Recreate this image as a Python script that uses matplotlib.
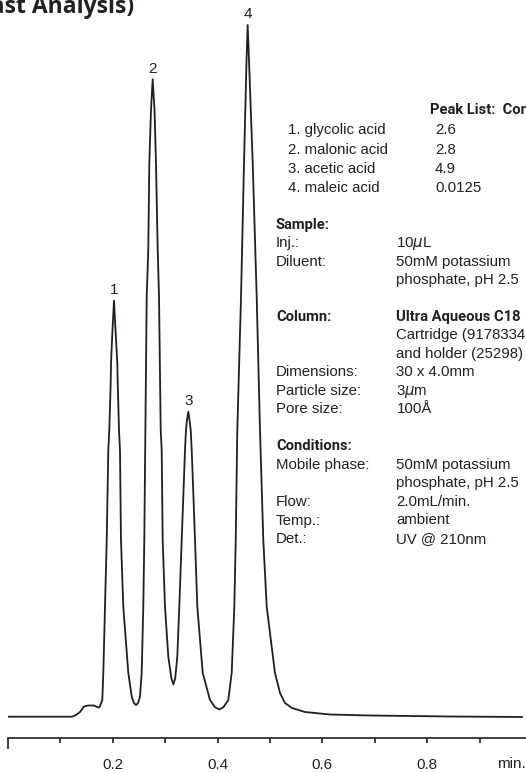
import numpy as np
import matplotlib
matplotlib.use('Agg')
import matplotlib.pyplot as plt

# traced chromatogram (time in min, detector signal in arbitrary units)
trace_t = [0.0, 0.1221, 0.1298, 0.1374, 0.1450, 0.1527, 0.1641, 0.1698, 0.1737, 0.1756,
           0.1800, 0.1819, 0.1851, 0.1884, 0.1914, 0.1933, 0.1960, 0.1966, 0.1994, 0.2023,
           0.2052, 0.2086, 0.2094, 0.2118, 0.2137, 0.2156, 0.2200, 0.2296, 0.2361, 0.2405,
           0.2443, 0.2480, 0.2519, 0.2551, 0.2582, 0.2601, 0.2618, 0.2647, 0.2677, 0.2697,
           0.2729, 0.2761, 0.2796, 0.2824, 0.2857, 0.2882, 0.2914, 0.2933, 0.2952, 0.2996,
           0.3059, 0.3120, 0.3155, 0.3190, 0.3231, 0.3269, 0.3315, 0.3378, 0.3397, 0.3416,
           0.3441, 0.3464, 0.3487, 0.3506, 0.3569, 0.3613, 0.3716, 0.3855, 0.3950, 0.4032,
           0.4110, 0.4204, 0.4269, 0.4319, 0.4346, 0.4376, 0.4447, 0.4504, 0.4552, 0.4574,
           0.4599, 0.4670, 0.4746, 0.4809, 0.4872, 0.4937, 0.5095, 0.5191, 0.5286, 0.5420,
           0.5668, 0.6145, 0.6908, 0.8435, 0.9809]
trace_sig = [0.0, 0.0, 1.7, 4.7, 10.2, 11.2, 11.2, 9.7, 9.2, 10.7,
             16.7, 43.7, 110.0, 176.7, 266.7, 286.7, 333.7, 353.7, 386.7, 416.0,
             386.7, 353.7, 333.7, 286.7, 266.7, 176.7, 110.0, 43.7, 20.0, 13.5,
             11.7, 13.5, 20.0, 43.7, 110.0, 176.7, 266.7, 420.0, 466.7, 553.7,
             606.7, 637.4, 606.7, 553.7, 466.7, 420.0, 286.7, 266.7, 176.7, 110.0,
             60.0, 38.0, 32.4, 38.0, 60.0, 110.0, 176.7, 266.7, 286.7, 296.7,
             305.0, 296.7, 286.7, 266.7, 176.7, 110.0, 43.7, 16.7, 9.5, 7.2,
             9.5, 16.7, 43.7, 110.0, 176.7, 286.7, 420.0, 553.7, 656.7, 691.7,
             656.7, 553.7, 420.0, 286.7, 176.7, 110.0, 43.7, 23.7, 13.7, 8.7,
             4.7, 2.2, 1.2, 0.2, -0.3]

peak_ids = ['1', '2', '3', '4']
peak_rt = [0.2023, 0.2761, 0.3441, 0.4574]

peak_names = ['1. glycolic acid', '2. malonic acid', '3. acetic acid', '4. maleic acid']
peak_conc = ['2.6', '2.8', '4.9', '0.0125']

sample_rows = [('Inj.:', '10$\\mu$L'),
               ('Diluent:', '50mM potassium'),
               ('', 'phosphate, pH 2.5')]
column_rows = [('', 'Cartridge (9178334'),
               ('', 'and holder (25298)'),
               ('Dimensions:', '30 x 4.0mm'),
               ('Particle size:', '3$\\mu$m'),
               ('Pore size:', '100Å')]
cond_rows = [('Mobile phase:', '50mM potassium'),
             ('', 'phosphate, pH 2.5'),
             ('Flow:', '2.0mL/min.'),
             ('Temp.:', 'ambient'),
             ('Det.:', 'UV @ 210nm')]

W, H = 526, 773
ink = '#231f20'
reg = ['Liberation Sans', 'DejaVu Sans']
bold = ['Roboto', 'Liberation Sans', 'DejaVu Sans']

fig = plt.figure(figsize=(W / 100, H / 100), dpi=100)

def put(px, py, s, fs=10.8, fam=reg, weight='normal', **kw):
    fig.text(px / W, 1 - py / H, s, fontsize=fs, family=fam, fontweight=weight,
             color=ink, va='center', **kw)

# chromatogram axes: x0 at pixel 8, 524 px per minute, axis line at pixel 738
ax = fig.add_axes([8 / W, (H - 738) / H, (W - 8) / W, 738 / H])
ax.plot(trace_t, trace_sig, color=ink, lw=1.3, solid_joinstyle='round')
ax.set_xlim(0, (W - 8) / 524)
ax.set_ylim(-21.3, 716.7)
for s in ['top', 'right', 'left']:
    ax.spines[s].set_visible(False)
ax.spines['bottom'].set_linewidth(1.2)
ax.spines['bottom'].set_color(ink)
ax.set_yticks([])
ax.set_xticks([0, 0.2, 0.4, 0.6, 0.8])
ax.set_xticklabels(['', '0.2', '0.4', '0.6', '0.8'], family=reg, fontsize=11)
ax.set_xticks([0.1, 0.3, 0.5, 0.7, 0.9], minor=True)
ax.tick_params(axis='x', which='both', direction='out', length=3.6, width=1.2,
               color=ink, labelcolor=ink, pad=10.5)
ax.xaxis.get_major_ticks()[0].tick1line.set_markersize(8)

sig_at = np.interp(peak_rt, trace_t, trace_sig)
for lab, rt, sv in zip(peak_ids, peak_rt, sig_at):
    ax.annotate(lab, (rt, sv), xytext=(0, 4.8), textcoords='offset points',
                ha='center', va='baseline', fontsize=11, family=reg, color=ink)

put(511, 764, 'min.', fs=11, ha='center')

# title (cut at left edge as in the source)
fig.text(134 / W, 1 - 13 / H, 'Organic Acids (Fast Analysis)', ha='right', va='baseline',
         fontsize=16.5, fontweight='bold', family=['Open Sans', 'DejaVu Sans'], color=ink)

# peak list
put(430, 110.7, 'Peak List:  Conc. (mg/mL)', fs=10.6, fam=bold, weight='bold')
for i, (nm, cc) in enumerate(zip(peak_names, peak_conc)):
    y = 130 + 19.5 * i
    put(288, y, nm)
    put(435, y, cc)

# sample / column / conditions
lx, vx, dy = 276, 396.5, 18.5
put(lx, 225, 'Sample:', fs=10.6, fam=bold, weight='bold')
for i, (a, b) in enumerate(sample_rows):
    put(lx, 225 + dy * (i + 1), a)
    put(vx, 225 + dy * (i + 1), b)

put(lx, 317, 'Column:', fs=10.6, fam=bold, weight='bold')
put(vx, 317, 'Ultra Aqueous C18', fs=10.6, fam=bold, weight='bold')
for i, (a, b) in enumerate(column_rows):
    put(lx, 317 + dy * (i + 1), a)
    put(vx, 317 + dy * (i + 1), b)

put(lx, 446.5, 'Conditions:', fs=10.6, fam=bold, weight='bold')
for i, (a, b) in enumerate(cond_rows):
    put(lx, 446.5 + dy * (i + 1), a)
    put(vx, 446.5 + dy * (i + 1), b)

fig.savefig('out.png', dpi=100)
